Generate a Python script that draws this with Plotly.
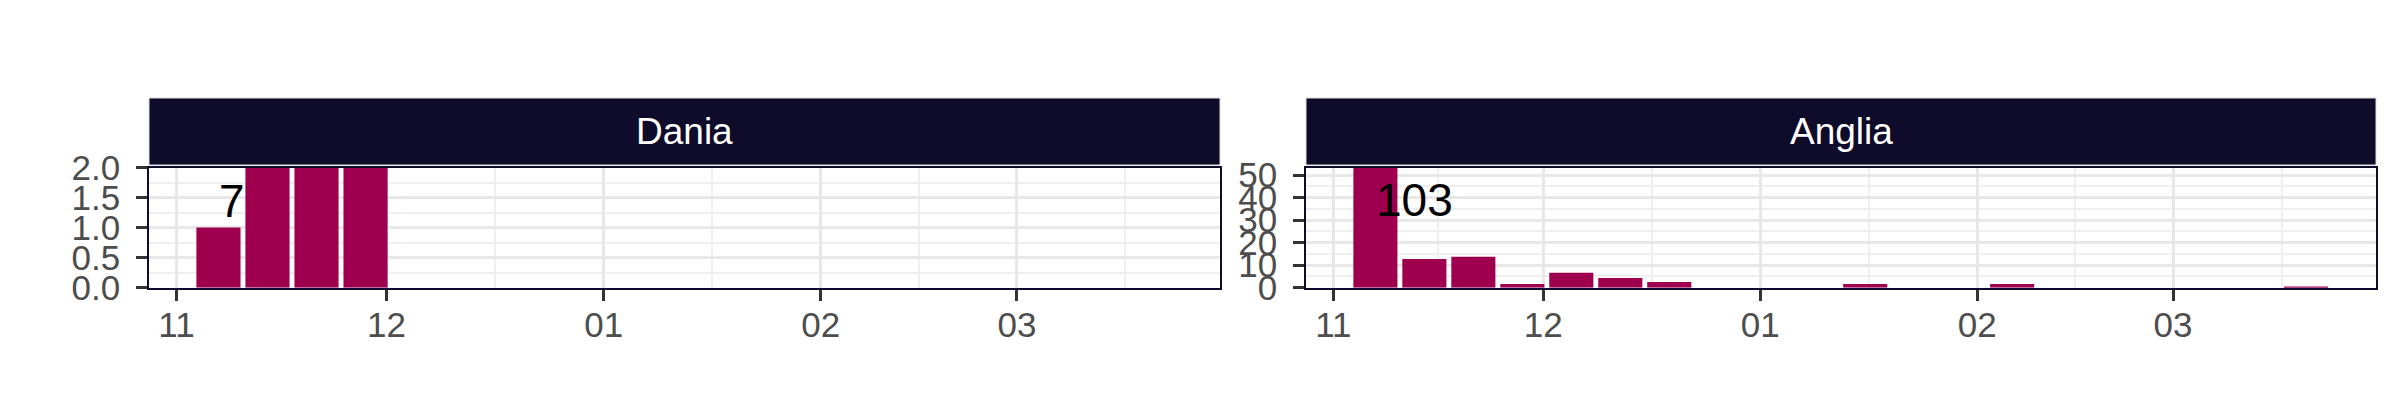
import plotly.graph_objects as go

# ---------------- data ----------------
panels = ["Dania", "Anglia"]

dania_weeks = ["2020-11-07", "2020-11-14", "2020-11-21", "2020-11-28"]
dania_values = [1, 2, 2, 2]

anglia_weeks = ["2020-11-07", "2020-11-14", "2020-11-21", "2020-11-28",
                "2020-12-05", "2020-12-12", "2020-12-19",
                "2021-01-16", "2021-02-06", "2021-03-20"]
anglia_values = [53.4, 12.8, 13.7, 1.6, 6.6, 4.3, 2.5, 1.6, 1.6, 0.2]

total_labels = ["7", "103"]
label_dates = ["2020-11-07", "2020-11-07"]
label_y = [1.44, 38.9]

x_tick_vals = ["2020-11-01", "2020-12-01", "2021-01-01", "2021-02-01", "2021-03-01"]
x_tick_text = ["11", "12", "01", "02", "03"]
x_minor_vals = ["2020-11-16", "2020-12-16 12:00", "2021-01-16 12:00",
                "2021-02-15", "2021-03-16 12:00"]
x_range = ["2020-10-28 02:00", "2021-03-30"]

y_ranges = [[0, 2], [0, 53.4]]
y_dticks = [0.5, 10]
y_formats = [".1f", "d"]

# ---------------- style ----------------
W, H = 2400, 420
BAR = "#9E004F"
DARK = "#0F0B2B"
GRID = "#E8E8E8"
GRID_MINOR = "#EFEFEF"
TXT = "#4D4D4D"
FONT = "Liberation Sans, Arial, Helvetica, sans-serif"
WEEK_MS = 7 * 86400000

x_domains = [[149 / W, 1220 / W], [1306 / W, 2376 / W]]
y_domain = [(H - 287.7) / H, (H - 167.5) / H]
strip_y = [(H - 165) / H, (H - 98) / H]

fig = go.Figure()

series = [(dania_weeks, dania_values), (anglia_weeks, anglia_values)]
for i, (wk, vals) in enumerate(series):
    xa = "x" if i == 0 else "x2"
    ya = "y" if i == 0 else "y2"
    fig.add_trace(go.Bar(
        x=wk, y=vals, width=[0.9 * WEEK_MS] * len(wk),
        marker=dict(color=BAR, line=dict(width=0)),
        xaxis=xa, yaxis=ya, showlegend=False, hoverinfo="x+y",
    ))

axis_common = dict(
    showline=True, mirror=True, linecolor=DARK, linewidth=1.6,
    ticks="outside", ticklen=11, tickwidth=3, tickcolor="#333333",
    tickfont=dict(family=FONT, size=35, color=TXT),
    showgrid=True, gridcolor=GRID, gridwidth=3.2, zeroline=False,
    automargin=False,
)

for i in range(2):
    sx = "" if i == 0 else "2"
    fig.update_layout(**{
        "xaxis" + sx: dict(
            axis_common, type="date", domain=x_domains[i], range=x_range,
            anchor="y" + sx, tickmode="array", tickvals=x_tick_vals,
            ticktext=x_tick_text, ticklabelstandoff=-6,
            minor=dict(tickmode="array", tickvals=x_minor_vals, showgrid=True,
                       gridcolor=GRID_MINOR, gridwidth=1.8, ticks=""),
        ),
        "yaxis" + sx: dict(
            axis_common, domain=y_domain, range=y_ranges[i],
            anchor="x" + sx, dtick=y_dticks[i], tick0=0,
            tickformat=y_formats[i], ticklabelstandoff=9,
            minor=dict(dtick=y_dticks[i] / 2, showgrid=True,
                       gridcolor=GRID_MINOR, gridwidth=1.8, ticks=""),
        ),
    })

    # strip
    fig.add_shape(type="rect", xref="x" + sx + " domain", yref="paper",
                  x0=0, x1=1, y0=strip_y[0], y1=strip_y[1],
                  fillcolor=DARK, line=dict(color="#DDDDDD", width=1), layer="above")
    fig.add_annotation(xref="x" + sx + " domain", yref="paper", x=0.5,
                       y=(strip_y[0] + strip_y[1]) / 2, text=panels[i],
                       showarrow=False, xanchor="center", yanchor="middle",
                       font=dict(family=FONT, size=37, color="white"))
    # total label
    fig.add_annotation(xref="x" + sx, yref="y" + sx, x=label_dates[i], y=label_y[i],
                       text=total_labels[i], showarrow=False, xanchor="left",
                       yanchor="middle", borderpad=0,
                       font=dict(family=FONT, size=46, color="black"))

fig.update_layout(
    width=W, height=H, autosize=False,
    margin=dict(l=0, r=0, t=0, b=0, autoexpand=False),
    paper_bgcolor="white", plot_bgcolor="white",
    barmode="overlay", showlegend=False,
)

fig.write_html("out.html", config={"displayModeBar": False},
               post_script="document.body.style.margin='0';")
